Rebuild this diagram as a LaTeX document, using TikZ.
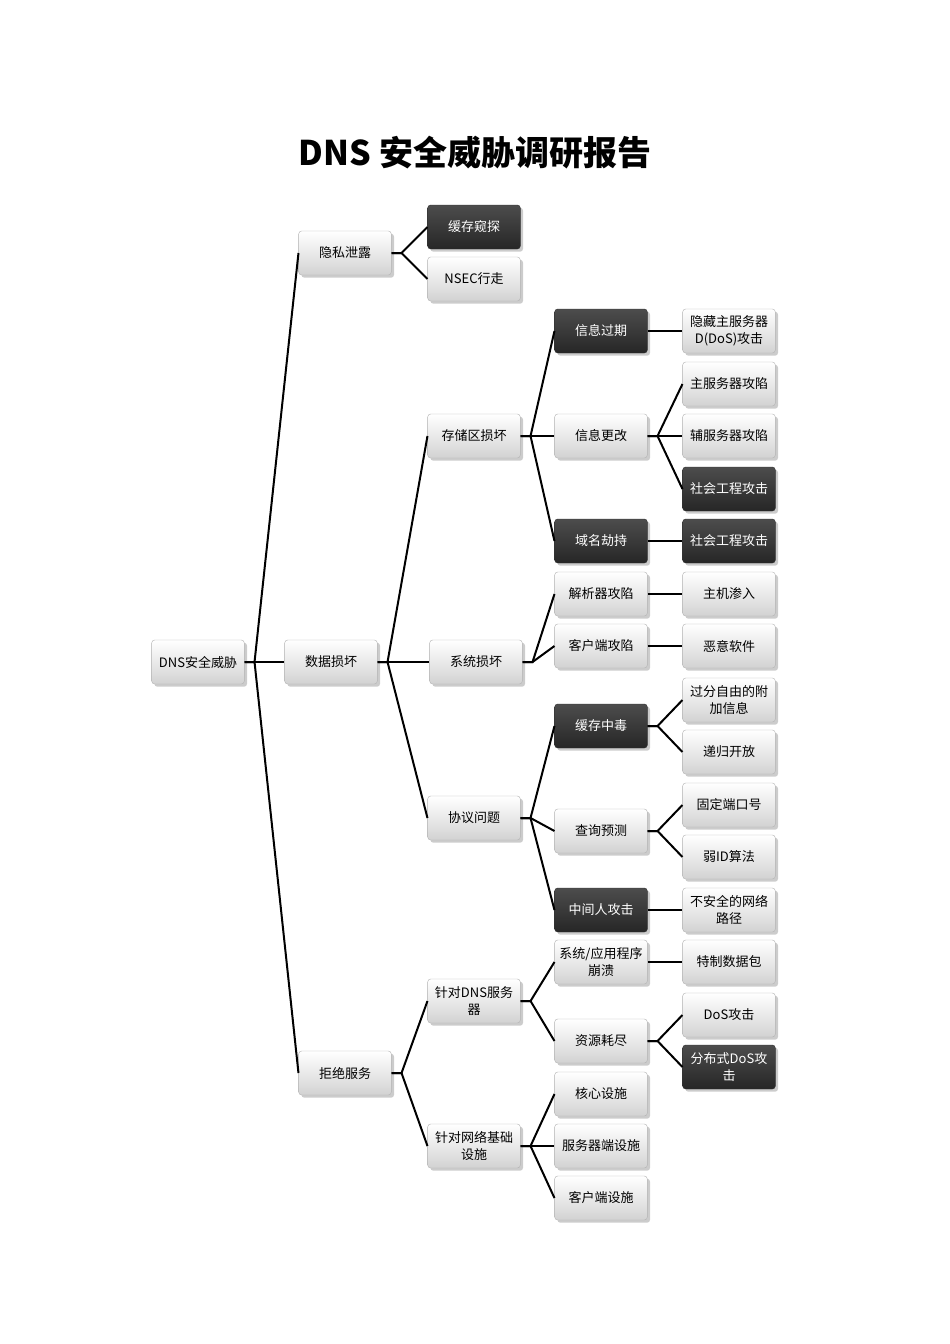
\documentclass[tikz,border=0pt]{standalone}
\usepackage{fontspec}
\setmainfont{Noto Sans CJK SC}
\usetikzlibrary{shadows}
\tikzset{
  box/.style={rectangle,rounded corners=3pt,minimum width=90pt,minimum height=44pt,
    text width=86pt,align=center,font=\fontsize{13}{17}\selectfont,
    top color=white,bottom color=gray!35,draw=gray!60,drop shadow={opacity=.4}},
  dbox/.style={box,top color=black!70,bottom color=black!85,draw=black!80,text=white},
  link/.style={line width=2pt,black}
}
\newcommand{\fork}[2]{\foreach \c in {#2}{\draw[link] (#1.east) -- ++(10,0) -- (\c.west);}}
\begin{document}
\begin{tikzpicture}[x=1pt,y=-1pt]
\useasboundingbox (0,0) rectangle (950,1344);
%title
\node (title) at (475,153) {\fontsize{34}{40}\selectfont\bfseries DNS 安全威胁调研报告};

%root and level 1
\node[box] (root) at (198,662) {DNS安全威胁};
\node[box] (privacy) at (345,253) {隐私泄露};
\node[box] (data) at (331,662) {数据损坏};
\node[box] (deny) at (345,1073) {拒绝服务};

%privacy
\node[dbox] (snoop) at (474,227) {缓存窥探};
\node[box] (nsec) at (474,279) {NSEC行走};

%data
\node[box] (store) at (474,436) {存储区损坏};
\node[box] (sys) at (476,662) {系统损坏};
\node[box] (proto) at (474,818) {协议问题};
\node[dbox] (expire) at (601,331) {信息过期};
\node[box] (change) at (601,436) {信息更改};
\node[dbox] (hijack) at (601,541) {域名劫持};
\node[box] (resolv) at (601,594) {解析器攻陷};
\node[box] (client) at (601,646) {客户端攻陷};
\node[dbox] (poison) at (601,726) {缓存中毒};
\node[box] (predict) at (601,831) {查询预测};
\node[dbox] (mitm) at (601,910) {中间人攻击};
\node[box] (hidden) at (729,331) {隐藏主服务器\\D(DoS)攻击};
\node[box] (master) at (729,384) {主服务器攻陷};
\node[box] (slave) at (729,436) {辅服务器攻陷};
\node[dbox] (social1) at (729,489) {社会工程攻击};
\node[dbox] (social2) at (729,541) {社会工程攻击};
\node[box] (host) at (729,594) {主机渗入};
\node[box] (malware) at (729,646) {恶意软件};
\node[box] (extra) at (729,700) {过分自由的附\\加信息};
\node[box] (recur) at (729,752) {递归开放};
\node[box] (port) at (729,805) {固定端口号};
\node[box] (weakid) at (729,857) {弱ID算法};
\node[box] (path) at (729,910) {不安全的网络\\路径};

%deny
\node[box] (dnssrv) at (474,1001) {针对DNS服务\\器};
\node[box] (infra) at (474,1146) {针对网络基础\\设施};
\node[box] (crash) at (601,962) {系统/应用程序\\崩溃};
\node[box] (exhaust) at (601,1041) {资源耗尽};
\node[box] (core) at (601,1094) {核心设施};
\node[box] (srvside) at (601,1146) {服务器端设施};
\node[box] (cliside) at (601,1198) {客户端设施};
\node[box] (packet) at (729,962) {特制数据包};
\node[box] (dos) at (729,1015) {DoS攻击};
\node[dbox] (ddos) at (729,1067) {分布式DoS攻\\击};

%connectors
\begin{scope}[on background layer/.style={}]
\fork{root}{privacy,data,deny}
\fork{privacy}{snoop,nsec}
\fork{data}{store,sys,proto}
\fork{store}{expire,change,hijack}
\fork{sys}{resolv,client}
\fork{proto}{poison,predict,mitm}
\fork{expire}{hidden}
\fork{change}{master,slave,social1}
\fork{hijack}{social2}
\fork{resolv}{host}
\fork{client}{malware}
\fork{poison}{extra,recur}
\fork{predict}{port,weakid}
\fork{mitm}{path}
\fork{deny}{dnssrv,infra}
\fork{dnssrv}{crash,exhaust}
\fork{infra}{core,srvside,cliside}
\fork{crash}{packet}
\fork{exhaust}{dos,ddos}
\end{scope}
\end{tikzpicture}
\end{document}
